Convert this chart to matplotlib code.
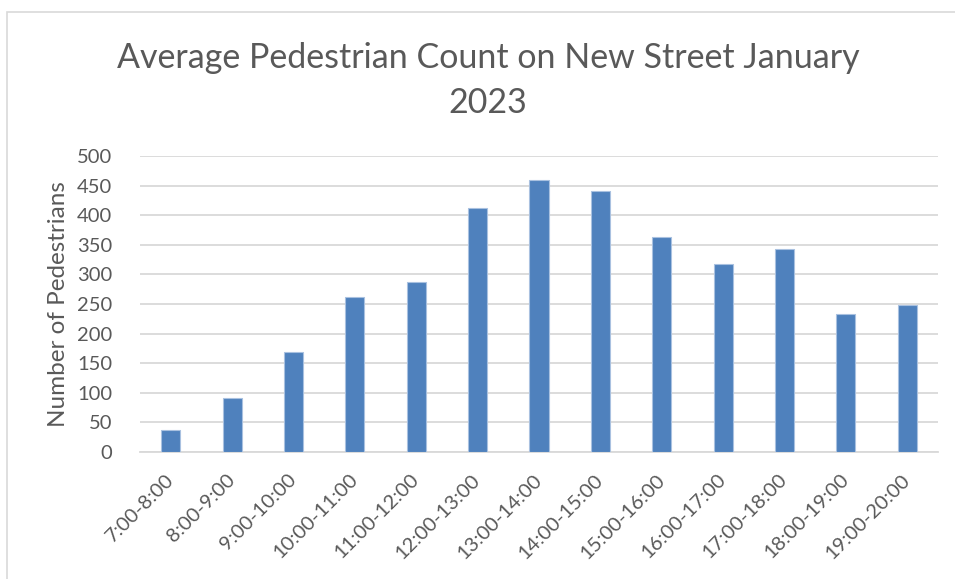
import matplotlib.pyplot as plt
from matplotlib.patches import Rectangle
import numpy as np

hours = ['7:00-8:00', '8:00-9:00', '9:00-10:00', '10:00-11:00', '11:00-12:00',
         '12:00-13:00', '13:00-14:00', '14:00-15:00', '15:00-16:00',
         '16:00-17:00', '17:00-18:00', '18:00-19:00', '19:00-20:00']
pedestrians = [38, 91, 169, 262, 288, 412, 460, 441, 364, 318, 343, 233, 249]
y_ticks = [0, 50, 100, 150, 200, 250, 300, 350, 400, 450, 500]

text_color = '#595959'
plt.rcParams['font.family'] = ['Lato', 'DejaVu Sans']

fig = plt.figure(figsize=(9.55, 5.79), dpi=100)
ax = fig.add_axes([140 / 955, 1 - 452 / 579, 798 / 955, 296 / 579])

# light frame around the chart, cut off at the right and bottom
fig.patches.append(Rectangle((7 / 955, -10 / 579), 980 / 955, 577 / 579,
                             transform=fig.transFigure, fill=False,
                             edgecolor='#d9d9d9', linewidth=1.2))

index = np.arange(len(hours))
ax.bar(index, pedestrians, 0.31, color='#4f81bd', edgecolor='#a9c1e0',
       linewidth=0.8, zorder=3)

ax.set_xlim(-0.5, len(hours) - 0.5)
ax.set_ylim(0, 500)
ax.set_yticks(y_ticks)
ax.set_xticks(index)
ax.set_xticklabels(hours, rotation=45, ha='right', va='center',
                   rotation_mode='anchor')
ax.tick_params(axis='both', length=0, labelsize=14.5, colors=text_color)
ax.tick_params(axis='y', pad=20)
ax.tick_params(axis='x', pad=18)
ax.grid(axis='y', color='#d9d9d9', linewidth=1.3, zorder=0)
for side in ['top', 'right', 'left']:
    ax.spines[side].set_visible(False)
ax.spines['bottom'].set_color('#d9d9d9')
ax.spines['bottom'].set_linewidth(1.3)

ax.set_ylabel('Number of Pedestrians', fontsize=17.5, color=text_color, labelpad=6)
fig.text(0.511, 1 - 58 / 579, 'Average Pedestrian Count on New Street January',
         ha='center', va='center', fontsize=24.5, color=text_color)
fig.text(0.511, 1 - 103 / 579, '2023',
         ha='center', va='center', fontsize=24.5, color=text_color)

fig.savefig('out.png', dpi=100)
